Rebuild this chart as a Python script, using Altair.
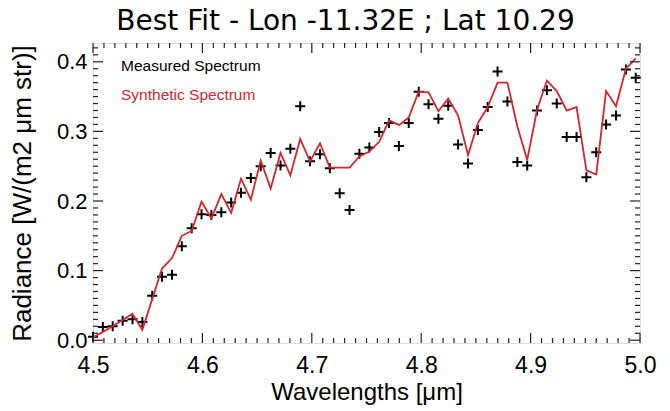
import altair as alt
import pandas as pd

wavelength = [4.5000, 4.5090, 4.5180, 4.5271, 4.5361, 4.5451, 4.5541, 4.5631, 4.5722, 4.5812,
              4.5902, 4.5992, 4.6082, 4.6173, 4.6263, 4.6353, 4.6443, 4.6533, 4.6624, 4.6714,
              4.6804, 4.6894, 4.6984, 4.7075, 4.7165, 4.7255, 4.7345, 4.7435, 4.7526, 4.7616,
              4.7706, 4.7796, 4.7886, 4.7977, 4.8067, 4.8157, 4.8247, 4.8337, 4.8428, 4.8518,
              4.8608, 4.8698, 4.8788, 4.8879, 4.8969, 4.9059, 4.9149, 4.9239, 4.9330, 4.9420,
              4.9510, 4.9600, 4.9690, 4.9781, 4.9871, 4.9961]

measured = [0.005, 0.019, 0.020, 0.028, 0.030, 0.026, 0.064, 0.091, 0.094, 0.135,
            0.161, 0.181, 0.180, 0.184, 0.198, 0.212, 0.233, 0.250, 0.269, 0.251,
            0.275, 0.336, 0.257, 0.267, 0.247, 0.211, 0.187, 0.268, 0.277, 0.299,
            0.312, 0.279, 0.312, 0.357, 0.339, 0.318, 0.337, 0.281, 0.254, 0.302,
            0.335, 0.386, 0.343, 0.256, 0.251, 0.330, 0.359, 0.340, 0.292, 0.292,
            0.234, 0.270, 0.310, 0.323, 0.389, 0.377]

synthetic = [0.004, 0.012, 0.020, 0.029, 0.038, 0.015, 0.059, 0.103, 0.118, 0.150,
             0.157, 0.199, 0.175, 0.210, 0.183, 0.232, 0.202, 0.258, 0.218, 0.269,
             0.237, 0.289, 0.257, 0.283, 0.248, 0.248, 0.248, 0.264, 0.271, 0.285,
             0.316, 0.309, 0.320, 0.357, 0.356, 0.329, 0.347, 0.323, 0.266, 0.312,
             0.335, 0.370, 0.370, 0.307, 0.259, 0.331, 0.373, 0.358, 0.330, 0.335,
             0.244, 0.238, 0.358, 0.336, 0.390, 0.405]

legend_labels = ["Measured Spectrum", "Synthetic Spectrum"]

x_major = [4.5, 4.6, 4.7, 4.8, 4.9, 5.0]
x_minor = [round(4.5 + 0.01 * k, 2) for k in range(51) if k % 10]
y_major = [0.0, 0.1, 0.2, 0.3, 0.4]
y_minor = [round(0.01 * k, 2) for k in range(43) if k % 10]

df = pd.DataFrame({"wl": wavelength, "measured": measured, "synthetic": synthetic})

W, H = 547, 300
FONT = "Liberation Sans"
TICK = "#222222"
RED = "#d6262b"
xs = alt.Scale(domain=[4.5, 5.0], nice=False, zero=False)
ys = alt.Scale(domain=[-0.004, 0.427], nice=False, zero=False)

xaxis = alt.Axis(
    orient="bottom", values=x_major, format=".1f", tickSize=0, domain=False, grid=False,
    labelFlush=False, labelOverlap=False,
    labelFont=FONT, labelFontSize=23, labelColor="black", labelPadding=11,
    title="Wavelengths [μm]", titleFont=FONT, titleFontSize=24,
    titleFontWeight="normal", titleColor="black", titlePadding=3)
yaxis = alt.Axis(
    orient="left", values=y_major, format=".1f", tickSize=0, domain=False, grid=False,
    labelFlush=False, labelOverlap=False,
    labelFont=FONT, labelFontSize=22, labelColor="black", labelPadding=6,
    title="Radiance [W/(m2 μm str)]", titleFont=FONT, titleFontSize=26,
    titleFontWeight="normal", titleColor="black", titlePadding=21)

base = alt.Chart(df)

points = base.mark_point(shape="M-1,0H1M0,-1V1", filled=False, size=100,
                         strokeWidth=2, color="black", opacity=1).encode(
    x=alt.X("wl:Q", scale=xs, axis=xaxis),
    y=alt.Y("measured:Q", scale=ys, axis=yaxis),
)

line = base.mark_line(color=RED, strokeWidth=1.8).encode(
    x=alt.X("wl:Q", scale=xs, axis=xaxis),
    y=alt.Y("synthetic:Q", scale=ys, axis=yaxis),
)


def xticks(values, length):
    d = alt.Chart(pd.DataFrame({"v": values}))
    bottom = d.mark_rule(color=TICK, strokeWidth=1.2).encode(
        x=alt.X("v:Q", scale=xs, axis=xaxis), y=alt.value(H), y2=alt.value(H - length))
    top = d.mark_rule(color=TICK, strokeWidth=1.2).encode(
        x=alt.X("v:Q", scale=xs, axis=xaxis), y=alt.value(0), y2=alt.value(length))
    return [bottom, top]


def yticks(values, length):
    d = alt.Chart(pd.DataFrame({"v": values}))
    left = d.mark_rule(color=TICK, strokeWidth=1.2).encode(
        y=alt.Y("v:Q", scale=ys, axis=yaxis), x=alt.value(0), x2=alt.value(length))
    right = d.mark_rule(color=TICK, strokeWidth=1.2).encode(
        y=alt.Y("v:Q", scale=ys, axis=yaxis), x=alt.value(W), x2=alt.value(W - length))
    return [left, right]


ticks = xticks(x_major, 10) + xticks(x_minor, 5) + yticks(y_major, 10) + yticks(y_minor, 5)

leg1 = alt.Chart(pd.DataFrame({"t": [legend_labels[0]]})).mark_text(
    align="left", baseline="middle", font=FONT, fontSize=15.5, color="black").encode(
    text="t:N", x=alt.value(28), y=alt.value(23))
leg2 = alt.Chart(pd.DataFrame({"t": [legend_labels[1]]})).mark_text(
    align="left", baseline="middle", font=FONT, fontSize=15.5, color=RED).encode(
    text="t:N", x=alt.value(28), y=alt.value(52))

chart = alt.layer(points, line, *ticks, leg1, leg2).properties(
    width=W, height=H,
    title=alt.TitleParams("Best Fit - Lon -11.32E ; Lat 10.29", font="DejaVu Sans", fontSize=28,
                          fontWeight="normal", color="black", anchor="middle", offset=6, dx=-21),
    autosize=alt.AutoSizeParams(type="none"),
    padding={"left": 93, "top": 43, "right": 30, "bottom": 68},
).configure_view(stroke="#222222", strokeWidth=1.5).configure(background="white")

chart.save("out.html", embed_options={"renderer": "svg", "actions": False})
